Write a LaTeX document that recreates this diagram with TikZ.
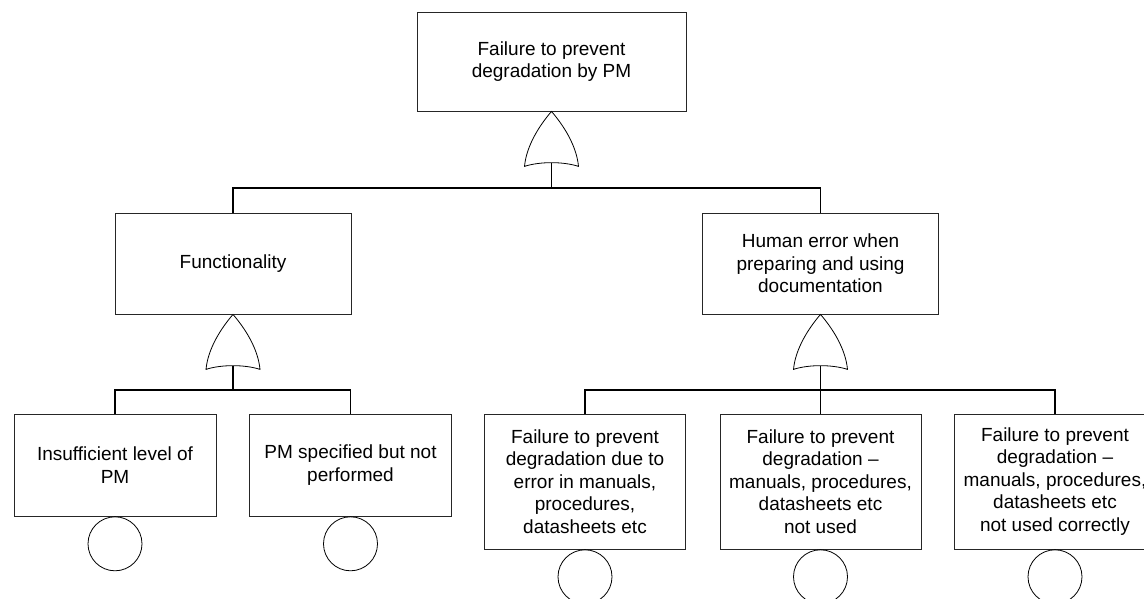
\documentclass[tikz,border=0pt]{standalone}
\usepackage{fontspec}
\setmainfont{Liberation Sans}
\begin{document}
\begin{tikzpicture}[x=1pt,y=-1pt,
  box/.style={draw=black!85,line width=0.8pt,fill=white,align=center,inner sep=2pt,
    font=\fontsize{19}{22.5}\selectfont},
  topbox/.style={box,minimum width=269pt,minimum height=99pt},
  midbox/.style={box,minimum width=236pt,minimum height=101pt},
  lowbox/.style={box,minimum width=202pt,minimum height=102pt},
  tallbox/.style={box,minimum width=201pt,minimum height=135pt},
  event/.style={draw=black,line width=0.8pt,circle,minimum size=54pt,inner sep=0pt,anchor=north},
  wire/.style={draw=black,line width=1.6pt},
  orgate/.pic={
    \draw[black,line width=0.8pt,fill=white]
      (0,0) .. controls (-12,14) and (-25,34) .. (-27,55)
            .. controls (-12,50) and (12,50) .. (27,55)
            .. controls (25,34) and (12,14) .. (0,0) -- cycle;
    \coordinate (-out) at (0,51.3);
  }]
\clip (0,0) rectangle (1144,598);
\fill[white] (0,0) rectangle (1144,598);

% events
\node[topbox] (top) at (551.5,61.5) {Failure to prevent\\degradation by PM};
\node[midbox] (fun) at (233,263.5) {Functionality};
\node[midbox] (hum) at (820.5,263.5) {Human error when\\preparing and using\\documentation};
\node[lowbox] (b1) at (115,465) {Insufficient level of\\PM};
\node[lowbox] (b2) at (350.5,465) {PM specified but not\\performed};
\node[tallbox] (b3) at (585,481.5) {Failure to prevent\\degradation due to\\error in manuals,\\procedures,\\datasheets etc};
\node[tallbox] (b4) at (820.5,481.5) {Failure to prevent\\degradation --\\manuals, procedures,\\datasheets etc\\not used};
\node[tallbox] (b5) at (1055,481.5) {Failure to prevent\\degradation --\\manuals, procedures,\\datasheets etc\\not used correctly};

% basic events
\node[event] (e1) at (b1.south) {};
\node[event] (e2) at (b2.south) {};
\node[event] (e3) at (b3.south) {};
\node[event] (e4) at (b4.south) {};
\node[event] (e5) at (b5.south) {};

% OR gates
\pic (g1) at (top.south) {orgate};
\pic (g2) at (fun.south) {orgate};
\pic (g3) at (hum.south) {orgate};

% junction points of the buses
\coordinate (j1) at (top.south |- 0,188);
\coordinate (j2) at (fun.south |- 0,390);
\coordinate (j3) at (hum.south |- 0,390);

% connectors
\draw[wire] (g1-out) -- (j1);
\draw[wire] (fun.north) |- (j1) -| (hum.north);
\draw[wire] (g2-out) -- (j2);
\draw[wire] (b1.north) |- (j2) -| (b2.north);
\draw[wire] (g3-out) -- (j3);
\draw[wire] (b3.north) |- (j3) -| (b5.north);
\draw[wire] (j3) -- (b4.north);
\end{tikzpicture}
\end{document}
